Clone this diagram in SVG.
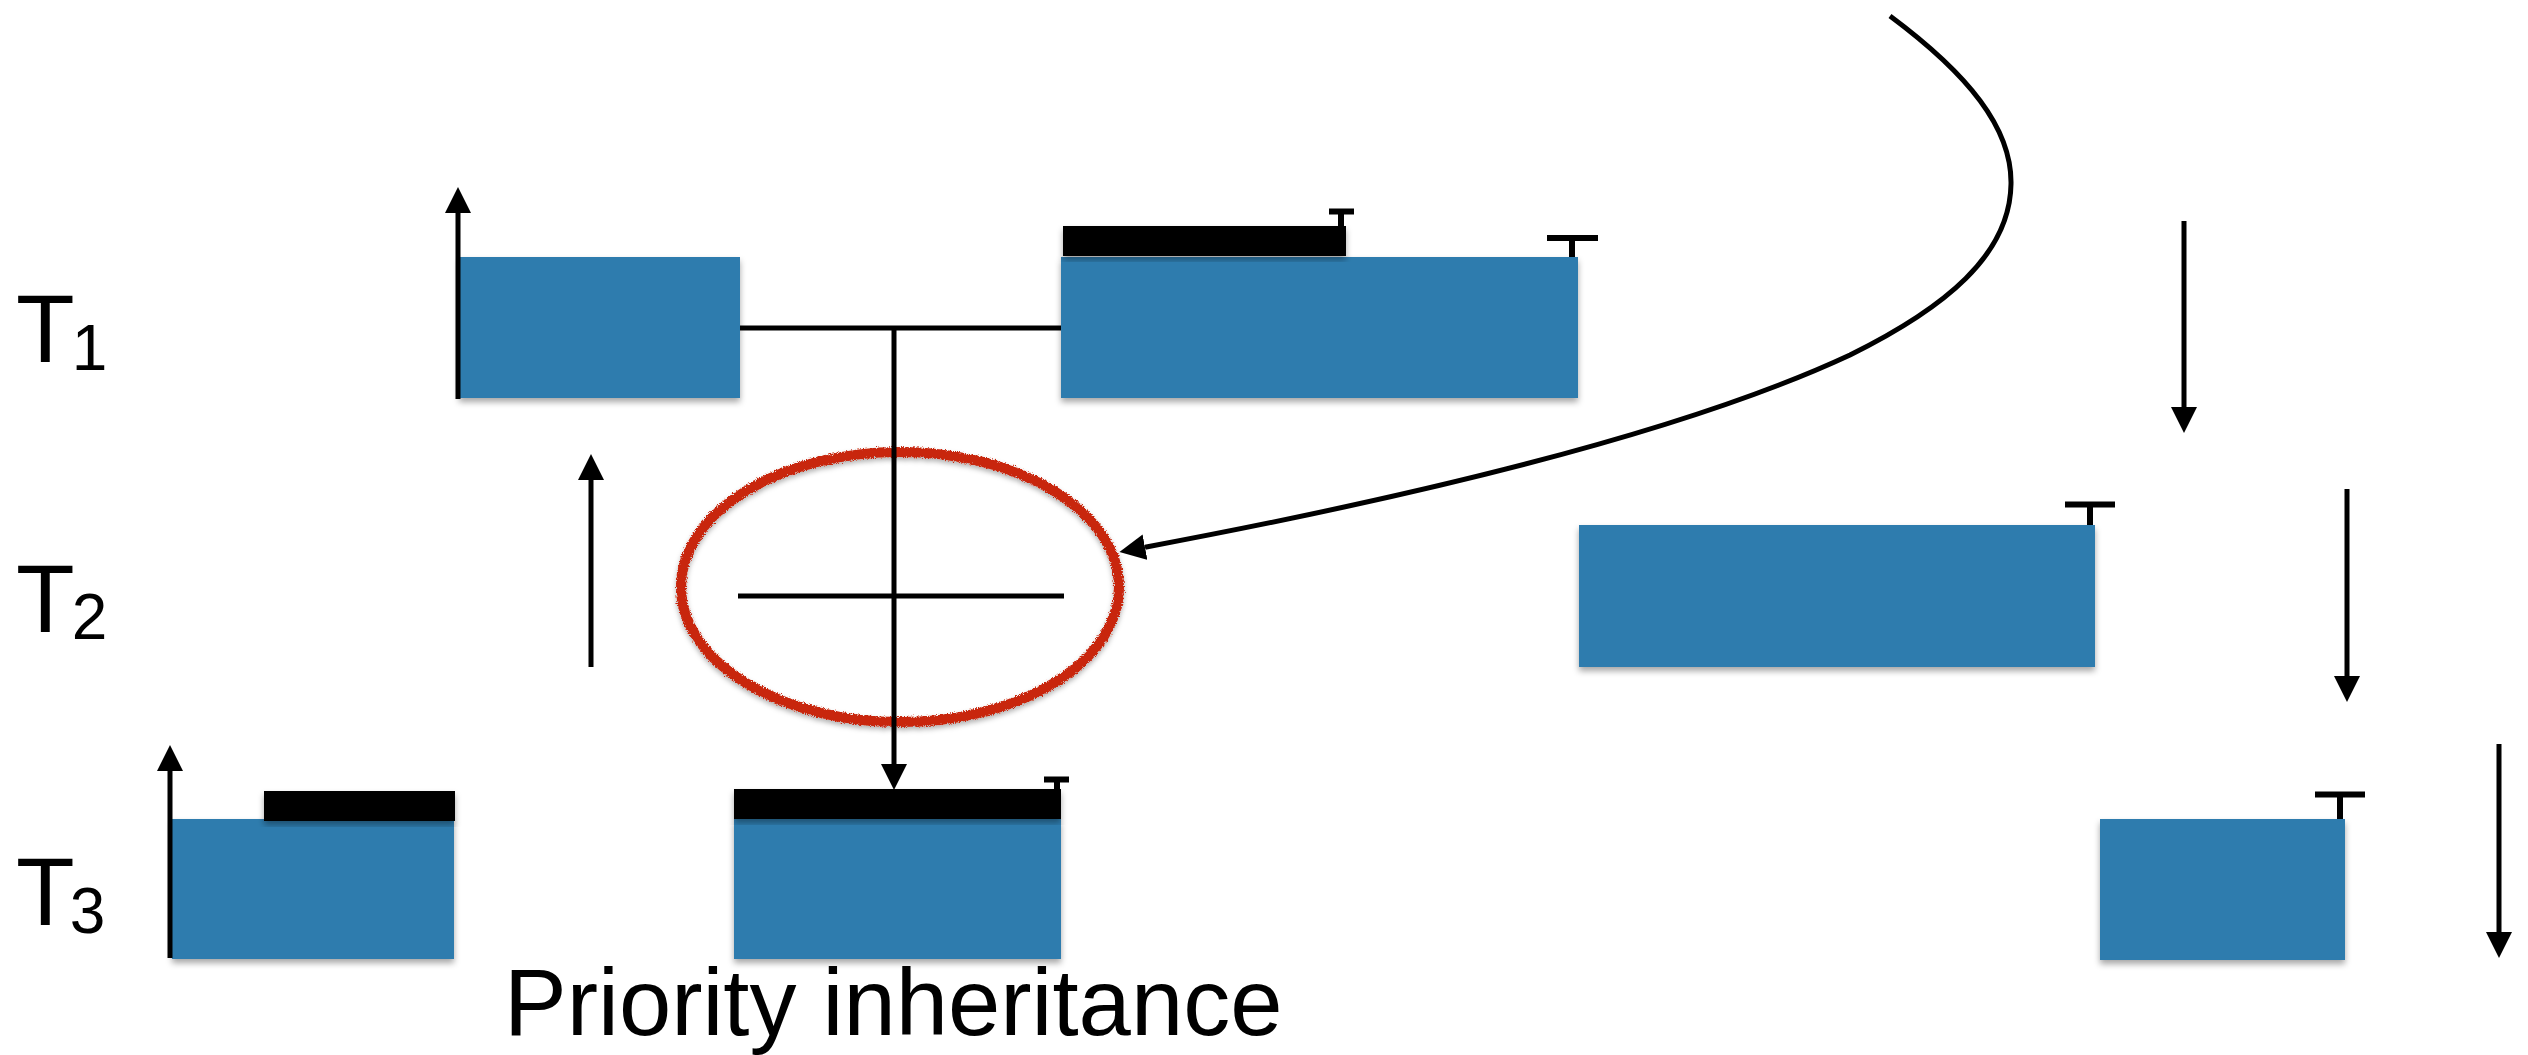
<svg xmlns="http://www.w3.org/2000/svg" width="2528" height="1055" viewBox="0 0 2528 1055">
  <style>
    .lbl { font-family: "Liberation Sans", Arial, sans-serif; fill: #000; }
    .sub { font-size: 64px; }
    .job { fill: #2e7bae; filter: url(#shadow); }
    .lock { fill: #000; filter: url(#shadow); }
    .wire { stroke: #000; stroke-width: 5; fill: none; }
    .cap { stroke: #000; stroke-width: 6; fill: none; }
    .arr { stroke: #000; stroke-width: 5; fill: none; marker-end: url(#head); }
  </style>
  <defs>
    <filter id="shadow" x="-10%" y="-10%" width="120%" height="130%">
      <feDropShadow dx="0" dy="4" stdDeviation="3" flood-color="#000" flood-opacity="0.35"/>
    </filter>
    <filter id="crayon" x="-10%" y="-10%" width="120%" height="120%">
      <feTurbulence type="fractalNoise" baseFrequency="0.9" numOctaves="2" seed="3" result="n"/>
      <feDisplacementMap in="SourceGraphic" in2="n" scale="5" xChannelSelector="R" yChannelSelector="G" result="d"/>
      <feDropShadow dx="0" dy="3" stdDeviation="2.5" flood-color="#000" flood-opacity="0.3"/>
    </filter>
    <marker id="head" markerUnits="userSpaceOnUse" markerWidth="28" markerHeight="28" viewBox="0 -14 28 28" refX="0" refY="0" orient="auto">
      <path d="M0,-13 L26,0 L0,13 Z" fill="#000"/>
    </marker>
  </defs>

  <!-- row labels -->
  <g id="label-T1"><text class="lbl" x="16" y="362" font-size="96">T<tspan class="sub" dx="-3" dy="8">1</tspan></text></g>
  <g id="label-T2"><text class="lbl" x="16" y="632" font-size="96">T<tspan class="sub" dx="-3" dy="7">2</tspan></text></g>
  <g id="label-T3"><text class="lbl" x="16" y="925" font-size="96">T<tspan class="sub" dx="-5" dy="8">3</tspan></text></g>

  <!-- T1 execution blocks -->
  <g id="t1-run-a"><rect class="job" x="459" y="257" width="281" height="141"/></g>
  <g id="t1-run-b">
    <rect class="job" x="1061" y="257" width="517" height="141"/>
    <rect class="lock" x="1063" y="226" width="283" height="30"/>
    <path class="cap" d="M1341,226 V211 M1329,211.5 H1354"/>
    <path class="cap" d="M1572,257 V238 M1547,238 H1598"/>
  </g>

  <!-- T2 execution block -->
  <g id="t2-run">
    <rect class="job" x="1579" y="525" width="516" height="142"/>
    <path class="cap" d="M2090,525 V504.5 M2065,504.5 H2115"/>
  </g>

  <!-- T3 execution blocks -->
  <g id="t3-run-a">
    <rect class="job" x="172" y="819" width="282" height="140"/>
    <rect class="lock" x="264" y="791" width="191" height="30"/>
  </g>
  <g id="t3-run-b">
    <rect class="job" x="734" y="819" width="327" height="140"/>
    <rect class="lock" x="734" y="789" width="327" height="30"/>
    <path class="cap" d="M1057,789 V779.5 M1044,779.5 H1069"/>
  </g>
  <g id="t3-run-c">
    <rect class="job" x="2100" y="819" width="245" height="141"/>
    <path class="cap" d="M2340,819 V794.5 M2315,794.5 H2365"/>
  </g>

  <!-- highlighted blocking interval -->
  <g id="highlight">
    <ellipse cx="900" cy="587" rx="219" ry="135" fill="none" stroke="#c8260c" stroke-width="10" filter="url(#crayon)"/>
  </g>

  <!-- caption -->
  <g id="caption"><text class="lbl" x="504" y="1035" font-size="94">Priority inheritance</text></g>

  <g id="connectors">
    <!-- release / deadline arrows -->
    <line class="arr" x1="458" y1="399" x2="458" y2="213"/>
    <line class="arr" x1="591" y1="667" x2="591" y2="480"/>
    <line class="arr" x1="170" y1="958" x2="170" y2="771"/>
    <line class="arr" x1="2184" y1="221" x2="2184" y2="407"/>
    <line class="arr" x1="2347" y1="489" x2="2347" y2="676"/>
    <line class="arr" x1="2499" y1="744" x2="2499" y2="932"/>
    <!-- T1 blocked on the lock held by T3 -->
    <line class="wire" x1="740" y1="328" x2="1061" y2="328"/>
    <line class="arr" x1="894" y1="328" x2="894" y2="764"/>
    <line class="wire" x1="738" y1="596" x2="1064" y2="596"/>
    <!-- annotation pointer -->
    <path class="arr" d="M1890,16 C1968,74 2012,128 2011,184 C2010,255 1945,308 1850,355 C1700,425 1450,490 1145,547.2"/>
  </g>
</svg>
